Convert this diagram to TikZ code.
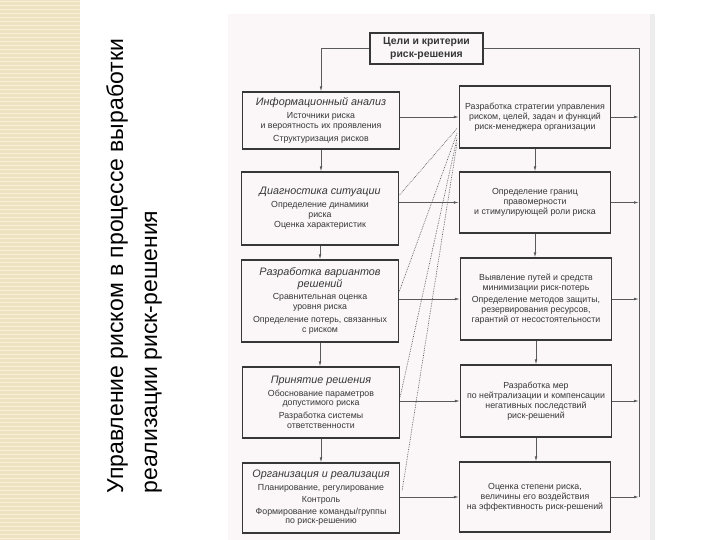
\documentclass[tikz,border=0pt]{standalone}
\usepackage{fontspec}
\setmainfont{Liberation Sans}
\usetikzlibrary{arrows.meta,calc}
\definecolor{stripbeige}{RGB}{238,226,192}
\definecolor{stripline}{RGB}{247,240,218}
\definecolor{scanbg}{RGB}{251,247,249}
\definecolor{inkgray}{RGB}{55,55,55}
\definecolor{linegray}{RGB}{90,90,90}
\newcommand{\hd}[1]{{\fontsize{10.8}{11.5}\selectfont\itshape #1}}

\begin{document}
\begin{tikzpicture}[x=1pt, y=-1pt,
  box/.style={draw=inkgray, line width=1.1pt, align=center, inner sep=2pt,
    text=inkgray, font=\fontsize{8.8}{9.9}\selectfont},
  leftbox/.style={box, minimum width=157, minimum height=#1},
  rightbox/.style={box, minimum width=151, minimum height=#1},
  conn/.style={draw=linegray, line width=0.7pt, -{Latex[length=5pt,width=2.6pt]}},
  bus/.style={draw=linegray, line width=0.7pt},
  dotline/.style={draw=linegray, line width=0.7pt, densely dotted}]

\useasboundingbox (0,0) rectangle (720,540);

% --- Background ---
\fill[stripbeige] (0,0) rectangle (80,540);
\foreach \y in {2,6,...,538}
  \draw[stripline, line width=1pt] (0,\y) -- (80,\y);
\fill[scanbg] (228,14) rectangle (650,540);
\fill[black!7] (650,14) rectangle (655,540);

% --- Title ---
\node[rotate=90, anchor=base west, font=\fontsize{23}{27}\selectfont, text=black]
  (title1) at (123,497) {Управление риском в процессе выработки};
\node[rotate=90, anchor=base west, font=\fontsize{23}{27}\selectfont, text=black]
  (title2) at (157,497) {реализации риск-решения};

% --- Goal ---
\node[box, minimum width=113, minimum height=31, font=\fontsize{10.4}{12.5}\selectfont\bfseries]
  (goal) at (426.5,48.5) {Цели и критерии\\риск-решения};

% --- Left column ---
\node[leftbox=57] (info) at (321,120.5) {%
  \hd{Информационный анализ}\\[2.5pt]
  Источники риска\\
  и вероятность их проявления\\[3pt]
  Структуризация рисков};
\node[leftbox=73] (diag) at (320,208.5) {%
  \hd{Диагностика ситуации}\\[2.5pt]
  Определение динамики\\
  риска\\[1pt]
  Оценка характеристик};
\node[leftbox=82] (variants) at (320,301) {%
  \hd{Разработка вариантов}\\
  \hd{решений}\\[2.5pt]
  Сравнительная оценка\\
  уровня риска\\[3pt]
  Определение потерь, связанных\\
  с риском};
\node[leftbox=71] (decision) at (321,402.5) {%
  \hd{Принятие решения}\\[2.5pt]
  Обоснование параметров\\
  допустимого риска\\[3pt]
  Разработка системы\\
  ответственности};
\node[leftbox=70] (organize) at (321,498) {%
  \hd{Организация и реализация}\\[2.5pt]
  Планирование, регулирование\\[2pt]
  Контроль\\[2pt]
  Формирование команды/группы\\
  по риск-решению};

% --- Right column ---
\node[rightbox=62] (strategy) at (535,117) {%
  Разработка стратегии управления\\
  риском, целей, задач и функций\\
  риск-менеджера организации};
\node[rightbox=61] (bounds) at (535,202.5) {%
  Определение границ\\
  правомерности\\
  и стимулирующей роли риска};
\node[rightbox=82] (minimize) at (536,299) {%
  Выявление путей и средств\\
  минимизации риск-потерь\\[2pt]
  Определение методов защиты,\\
  резервирования ресурсов,\\
  гарантий от несостоятельности};
\node[rightbox=72] (neutral) at (536,401) {%
  Разработка мер\\
  по нейтрализации и компенсации\\
  негативных последствий\\
  риск-решений};
\node[rightbox=70] (assess) at (535,497) {%
  Оценка степени риска,\\
  величины его воздействия\\
  на эффективность риск-решений};

% --- Connectors ---
\coordinate (busR) at (639,48.5);
\draw[conn] (goal.west) -| (info.north);
\draw[bus] (goal.east) -- (busR) -- (busR |- assess.east);

\foreach \a/\b in {info/diag, diag/variants, variants/decision, decision/organize,
                   strategy/bounds, bounds/minimize, minimize/neutral, neutral/assess}
  \draw[conn] (\a.south) -- (\a.south |- \b.north);

\foreach \a/\b in {info/strategy, diag/bounds, variants/minimize,
                   decision/neutral, organize/assess} {
  \draw[conn] (\b.west -| \a.east) -- (\b.west);
  \draw[conn] (\b.east) -- (\b.east -| busR);
}

% dotted links from the strategy box
\draw[dotline] ($(strategy.south west)+(-2,-20)$) -- ($(diag.east)+(0,-13)$);
\draw[dotline] ($(strategy.south west)+(-2,-15)$) -- ($(variants.east)+(0,-9)$);
\draw[dotline] ($(strategy.south west)+(-2,-10)$) -- ($(decision.east)+(0,-5)$);
\draw[dotline] ($(strategy.south west)+(-2,-5)$) -- ($(organize.east)+(2,-7)$);

\end{tikzpicture}
\end{document}
